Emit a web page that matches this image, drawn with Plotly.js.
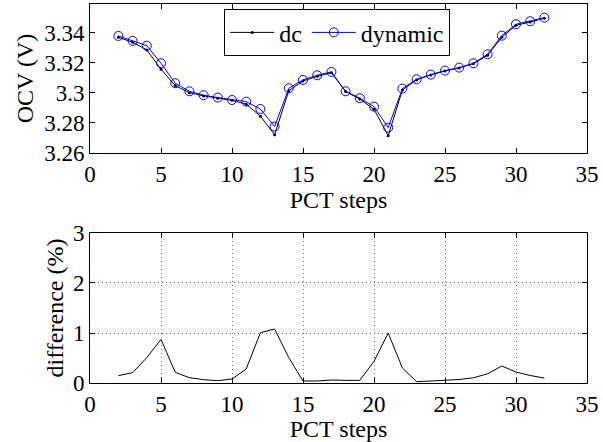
<!DOCTYPE html>
<html><head><meta charset="utf-8">
<script src="https://cdn.plot.ly/plotly-3.0.1.min.js"></script>
<style>html,body{margin:0;padding:0;background:#fff}#c{width:603px;height:442px}</style>
</head><body><div id="c"></div>
<script>
const steps = [2,3,4,5,6,7,8,9,10,11,12,13,14,15,16,17,18,19,20,21,22,23,24,25,26,27,28,29,30,31,32];
const ocvDc = [3.3371,3.3338,3.3287,3.3158,3.3049,3.3002,3.2980,3.2965,3.2951,3.2925,3.2845,3.2722,3.3015,3.3080,3.3111,3.3135,3.3009,3.2960,3.2891,3.2715,3.3020,3.3087,3.3120,3.3147,3.3167,3.3195,3.3251,3.3371,3.3451,3.3473,3.3498];
const ocvDynamic = [3.3380,3.3347,3.3315,3.3198,3.3065,3.3011,3.2985,3.2969,3.2953,3.2942,3.2893,3.2776,3.3031,3.3087,3.3118,3.3140,3.3011,3.2965,3.2909,3.2769,3.3029,3.3091,3.3122,3.3149,3.3169,3.3198,3.3258,3.3382,3.3458,3.3478,3.3502];
const difference = [0.147,0.207,0.507,0.873,0.213,0.107,0.067,0.047,0.080,0.280,1.007,1.080,0.507,0.040,0.040,0.060,0.053,0.053,0.434,1.000,0.300,0.026,0.040,0.050,0.070,0.105,0.184,0.340,0.220,0.150,0.099];
const xTicks = [0,5,10,15,20,25,30,35];
const ocvTicks = [3.26,3.28,3.30,3.32,3.34];
const ocvTickText = ['3.26','3.28','3.3','3.32','3.34'];
const diffTicks = [0,1,2,3];

const F = 'Liberation Serif';
const FS = 23, FT = 24;
const axBase = {
  showline:true, mirror:'ticks', linecolor:'#000', linewidth:1,
  ticks:'inside', ticklen:5, tickcolor:'#000', zeroline:false,
  tickfont:{family:F,size:FS,color:'#000'}
};
const traces = [
  {x:steps,y:ocvDc,name:'dc',type:'scatter',mode:'lines+markers',
   line:{color:'#000',width:1},marker:{symbol:'circle',size:3,color:'#000'},xaxis:'x',yaxis:'y'},
  {x:steps,y:ocvDynamic,name:'dynamic',type:'scatter',mode:'lines+markers',
   line:{color:'#0000ff',width:1},marker:{symbol:'circle-open',size:9,color:'#0000ff',line:{width:1}},xaxis:'x',yaxis:'y'},
  {x:steps,y:difference,name:'difference',type:'scatter',mode:'lines',showlegend:false,
   line:{color:'#000',width:1},xaxis:'x2',yaxis:'y2'}
];
const layout = {
  width:603,height:442,
  margin:{l:90,r:16,t:4,b:59},
  paper_bgcolor:'#fff',plot_bgcolor:'#fff',
  font:{family:F,size:FS,color:'#000'},
  showlegend:true,
  legend:{x:0.27,y:0.986,xanchor:'left',yanchor:'top',orientation:'h',
    bgcolor:'#fff',bordercolor:'#000',borderwidth:1,font:{family:F,size:FT,color:'#000'},
    tracegroupgap:0,itemwidth:44},
  xaxis:Object.assign({},axBase,{domain:[0,1],range:[0,35],tickvals:xTicks,showgrid:false,anchor:'y',
    title:{text:'PCT steps',font:{family:F,size:FT,color:'#000'},standoff:0}}),
  yaxis:Object.assign({},axBase,{domain:[0.607,1],range:[3.26,3.3593],tickvals:ocvTicks,ticktext:ocvTickText,showgrid:false,anchor:'x',
    title:{text:'OCV (V)',font:{family:F,size:FT,color:'#000'},standoff:3}}),
  xaxis2:Object.assign({},axBase,{domain:[0,1],range:[0,35],tickvals:xTicks,anchor:'y2',
    showgrid:true,gridcolor:'#777',griddash:'1px,3px',gridwidth:1,
    title:{text:'PCT steps',font:{family:F,size:FT,color:'#000'},standoff:0}}),
  yaxis2:Object.assign({},axBase,{domain:[0,0.3958],range:[0,3],tickvals:diffTicks,anchor:'x2',
    showgrid:true,gridcolor:'#777',griddash:'1px,3px',gridwidth:1,
    title:{text:'difference (%)',font:{family:F,size:FT,color:'#000'},standoff:2}})
};
Plotly.newPlot('c',traces,layout,{displayModeBar:false,staticPlot:true});
</script></body></html>
